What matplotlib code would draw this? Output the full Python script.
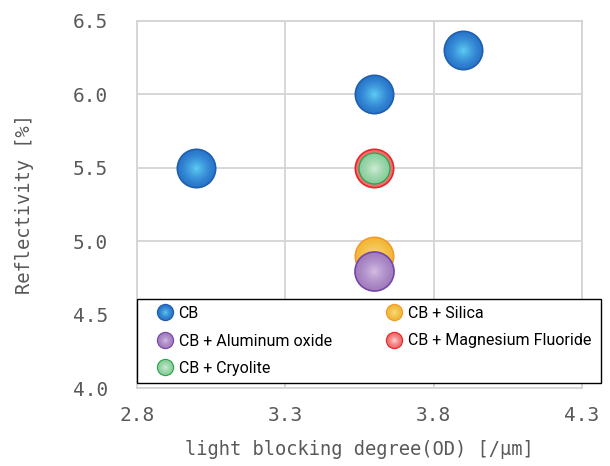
import numpy as np
import matplotlib
matplotlib.use("Agg")
import matplotlib.pyplot as plt
from matplotlib.lines import Line2D
from matplotlib.patches import Rectangle
from matplotlib.legend_handler import HandlerTuple
from matplotlib.colors import to_rgb

# ---- data ----
series_names = ["CB", "CB + Silica", "CB + Aluminum oxide",
                "CB + Magnesium Fluoride", "CB + Cryolite"]
cb_x = [3.0, 3.6, 3.9]
cb_y = [5.5, 6.0, 6.3]
silica_x = [3.6]
silica_y = [4.9]
alumina_x = [3.6]
alumina_y = [4.8]
mgf_x = [3.6]
mgf_y = [5.5]
cryolite_x = [3.6]
cryolite_y = [5.5]

x_ticks = [2.8, 3.3, 3.8, 4.3]
y_ticks = [4.0, 4.5, 5.0, 5.5, 6.0, 6.5]

# ---- styles (edge, body, centre highlight, marker area) ----
styles = {
    "CB": ("#1f5eae", "#2a78cc", "#5fd0f5", 830),
    "CB + Silica": ("#f39a2c", "#f2b93a", "#fbe08a", 830),
    "CB + Aluminum oxide": ("#7447a6", "#a47fc0", "#d4c0e4", 860),
    "CB + Magnesium Fluoride": ("#e8262a", "#ef6f6f", "#fde0dc", 830),
    "CB + Cryolite": ("#2ea44f", "#8ccf9e", "#d2eed8", 540),
}

data = {
    "CB": (cb_x, cb_y),
    "CB + Silica": (silica_x, silica_y),
    "CB + Aluminum oxide": (alumina_x, alumina_y),
    "CB + Magnesium Fluoride": (mgf_x, mgf_y),
    "CB + Cryolite": (cryolite_x, cryolite_y),
}

NL = 14

def layers(edge, body, centre):
    b = np.array(to_rgb(body)); c = np.array(to_rgb(centre))
    out = []
    for i in range(NL):
        t = i / (NL - 1)
        frac = 1 - t  # size fraction
        col = b + (c - b) * (t ** 1.3)
        out.append((frac, col))
    return out

fig = plt.figure(figsize=(6.10, 4.66), dpi=100)
ax = fig.add_axes([137/610, 1 - 388/466, 445/610, 367/466])

draw_order = ["CB", "CB + Silica", "CB + Aluminum oxide",
              "CB + Magnesium Fluoride", "CB + Cryolite"]
z = 3
for name in draw_order:
    edge, body, centre, s = styles[name]
    xs, ys = data[name]
    ax.scatter(xs, ys, s=s, color=edge, linewidths=0, zorder=z)
    z += 0.01
    inner = s * 0.84
    for frac, col in layers(edge, body, centre):
        sz = inner * max(frac, 0.02) ** 2
        ax.scatter(xs, ys, s=sz, color=col, linewidths=0, zorder=z)
        z += 0.01

ax.set_xlim(2.8, 4.3)
ax.set_ylim(4.0, 6.5)
ax.set_xticks(x_ticks)
ax.set_yticks(y_ticks)
ax.set_xticklabels([f"{v:.1f}" for v in x_ticks])
ax.set_yticklabels([f"{v:.1f}" for v in y_ticks])
ax.grid(True, color="#d4d4d4", linewidth=1.3, zorder=0)
ax.set_axisbelow(True)
for sp in ax.spines.values():
    sp.set_color("#d4d4d4")
    sp.set_linewidth(1.3)
mono = "DejaVu Sans Mono"
ax.tick_params(axis="both", length=0, colors="#595959", labelsize=14)
for lab in ax.get_xticklabels() + ax.get_yticklabels():
    lab.set_fontfamily(mono)
ax.tick_params(axis="y", pad=21)
ax.tick_params(axis="x", pad=13)

ax.set_xlabel("light blocking degree(OD) [/μm]", fontfamily=mono,
              fontsize=13.5, color="#595959", labelpad=11)
ax.set_ylabel("Reflectivity [%]", fontfamily=mono, fontsize=13.5,
              color="#595959", labelpad=28)

# legend frame
frame = Rectangle((0.0, 5/367), 464/445, 84/367, transform=ax.transAxes,
                  facecolor="white", edgecolor="black", linewidth=1.0,
                  clip_on=False, zorder=9)
ax.add_patch(frame)

# legend handles with gradient
handles = []
for name in series_names:
    edge, body, centre, s = styles[name]
    ms = 12.5
    parts = [Line2D([], [], marker="o", linestyle="none", markersize=ms,
                    markerfacecolor=edge, markeredgewidth=0)]
    for frac, col in layers(edge, body, centre)[::2]:
        parts.append(Line2D([], [], marker="o", linestyle="none",
                            markersize=ms * 0.86 * max(frac, 0.05),
                            markerfacecolor=col, markeredgewidth=0))
    handles.append(tuple(parts))

order = [0, 2, 4, 1, 3]
yc = (388 - 341) / 367
leg = ax.legend([handles[i] for i in order], [series_names[i] for i in order],
                handler_map={tuple: HandlerTuple(ndivide=1, pad=0)},
                ncol=2, loc="center left",
                bbox_to_anchor=(20/445, yc - 0.05, 434/445, 0.1), mode="expand",
                frameon=False,
                prop={"family": "Roboto", "size": 11.5},
                handlelength=1.05, handletextpad=0.3,
                labelspacing=0.78, borderpad=0.0, borderaxespad=0)
leg.set_zorder(10)
for t in leg.get_texts():
    t.set_color("black")

fig.savefig("out.png", dpi=100)
